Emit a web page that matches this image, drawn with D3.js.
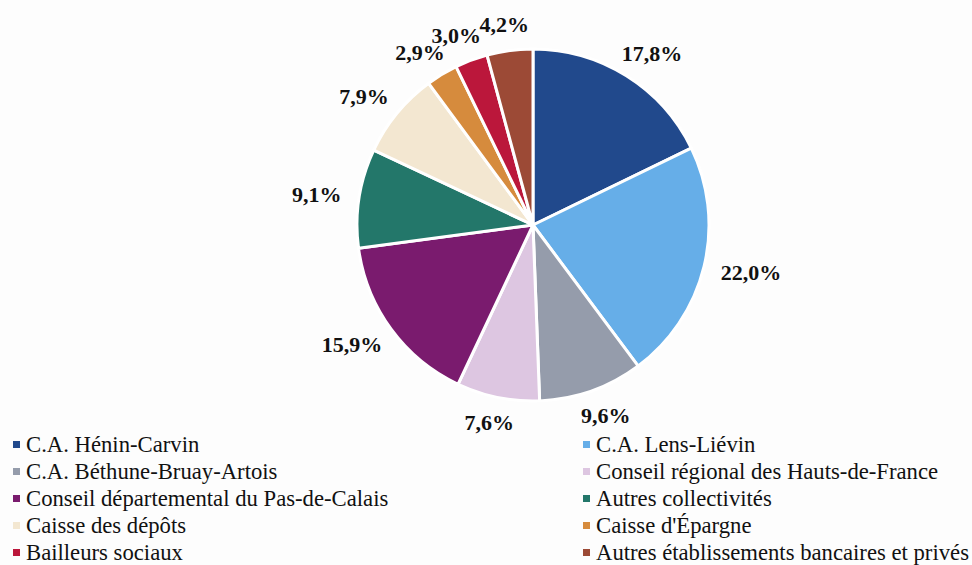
<!DOCTYPE html>
<html>
<head>
<meta charset="utf-8">
<script src="https://cdn.jsdelivr.net/npm/d3@7"></script>
<style>
  body { margin: 0; background: #fdfdfd; }
  svg { display: block; font-family: "Liberation Serif", "Times New Roman", serif; }
</style>
</head>
<body>
<svg id="chart" width="972" height="565"></svg>
<script>
(function () {
    'use strict';

    // data (share of outstanding debt, %)
    var categories = [
        'C.A. Hénin-Carvin',
        'C.A. Lens-Liévin',
        'C.A. Béthune-Bruay-Artois',
        'Conseil régional des Hauts-de-France',
        'Conseil départemental du Pas-de-Calais',
        'Autres collectivités',
        'Caisse des dépôts',
        "Caisse d'Épargne",
        'Bailleurs sociaux',
        'Autres établissements bancaires et privés'
    ];
    var values = [17.8, 22.0, 9.6, 7.6, 15.9, 9.1, 7.9, 2.9, 3.0, 4.2];
    var colors = ['#21498c', '#66aee8', '#959cab', '#ddc6e1', '#7a1b6e',
                  '#23776a', '#f3e7d1', '#d68b3d', '#bb173b', '#9c4a36'];

    var svg = d3.select('#chart');
    var cx = 533, cy = 225, radius = 176;

    var pie = d3.pie().value(function (d) { return d; }).sort(null);
    var arc = d3.arc().innerRadius(0).outerRadius(radius);
    var fmt = function (v) { return d3.format('.1f')(v).replace('.', ',') + '%'; };

    var g = svg.append('g').attr('transform', 'translate(' + cx + ',' + cy + ')');
    var arcs = pie(values);

    g.selectAll('path')
        .data(arcs).enter()
        .append('path')
        .attr('d', arc)
        .attr('fill', function (d, i) { return colors[i]; })
        .attr('stroke', '#ffffff')
        .attr('stroke-width', 3)
        .attr('stroke-linejoin', 'round');

    // labels placed outside end, pushed out by half their box
    var labelR = radius + 18;
    var labels = g.selectAll('text.lbl')
        .data(arcs).enter()
        .append('text')
        .attr('class', 'lbl')
        .attr('text-anchor', 'middle')
        .attr('dominant-baseline', 'central')
        .style('font-size', '22px')
        .style('font-weight', 'bold')
        .attr('fill', '#111')
        .text(function (d) { return fmt(d.data); });

    labels.each(function (d) {
        var a = (d.startAngle + d.endAngle) / 2;
        var w = this.getComputedTextLength();
        var x = Math.sin(a) * labelR + Math.sin(a) * w / 2;
        var y = -Math.cos(a) * labelR - Math.cos(a) * 8;
        d3.select(this).attr('x', x).attr('y', y);
    });

    // legend, two columns
    var colX = [13, 583];
    var rowY0 = 444, rowH = 27;
    var legend = svg.selectAll('g.legend')
        .data(categories).enter()
        .append('g')
        .attr('class', 'legend')
        .attr('transform', function (d, i) {
            return 'translate(' + colX[i % 2] + ',' + (rowY0 + Math.floor(i / 2) * rowH) + ')';
        });
    legend.append('rect')
        .attr('x', 0).attr('y', -3)
        .attr('width', 7).attr('height', 7)
        .attr('fill', function (d, i) { return colors[i]; });
    legend.append('text')
        .attr('x', 13)
        .attr('y', 0)
        .attr('dominant-baseline', 'central')
        .style('font-size', '22.7px')
        .attr('fill', '#111')
        .text(function (d) { return d; });
})();
</script>
</body>
</html>
